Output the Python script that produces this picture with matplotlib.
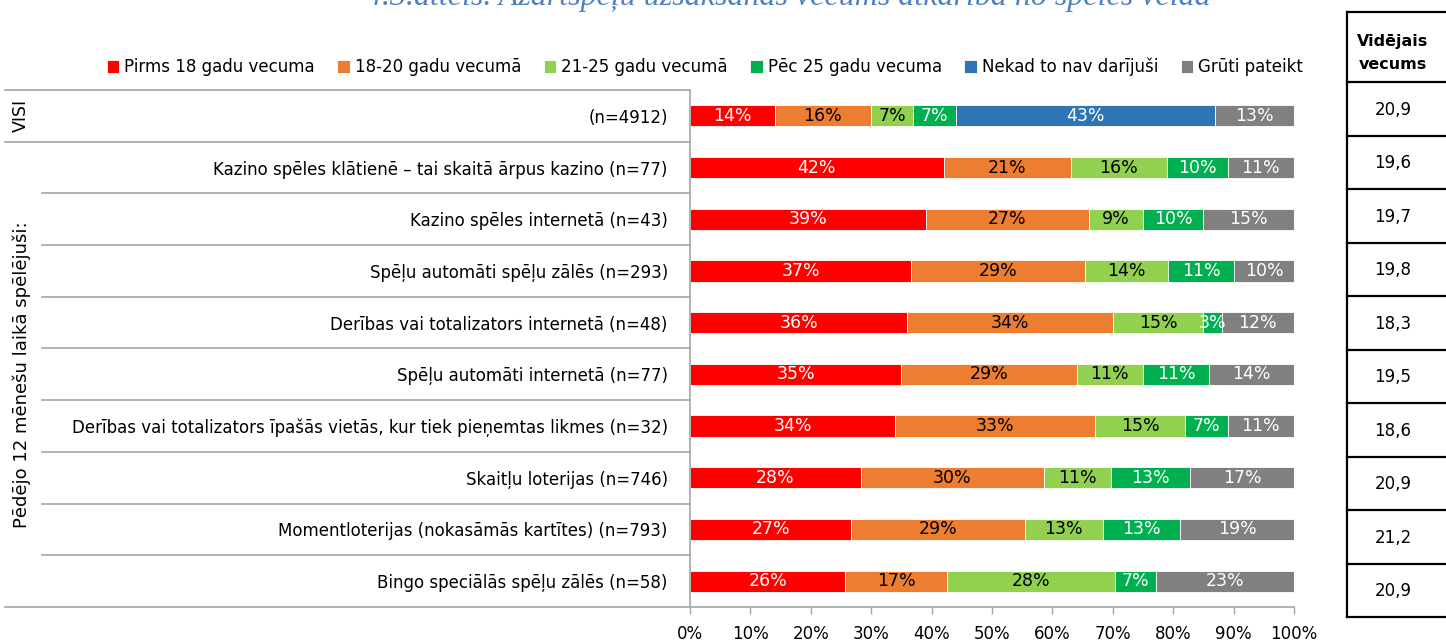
import numpy as np
import matplotlib.pyplot as plt
from matplotlib.transforms import blended_transform_factory

plt.rcParams['font.family'] = ['DejaVu Sans']

# dati
categories = [
    "(n=4912)",
    "Kazino spēles klātienē – tai skaitā ārpus kazino (n=77)",
    "Kazino spēles internetā (n=43)",
    "Spēļu automāti spēļu zālēs (n=293)",
    "Derības vai totalizators internetā (n=48)",
    "Spēļu automāti internetā (n=77)",
    "Derības vai totalizators īpašās vietās, kur tiek pieņemtas likmes (n=32)",
    "Skaitļu loterijas (n=746)",
    "Momentloterijas (nokasāmās kartītes) (n=793)",
    "Bingo speciālās spēļu zālēs (n=58)",
]
series_names = ["Pirms 18 gadu vecuma", "18-20 gadu vecumā", "21-25 gadu vecumā",
                "Pēc 25 gadu vecuma", "Nekad to nav darījuši", "Grūti pateikt"]
before18 = [14, 42, 39, 37, 36, 35, 34, 28, 27, 26]
age18_20 = [16, 21, 27, 29, 34, 29, 33, 30, 29, 17]
age21_25 = [7, 16, 9, 14, 15, 11, 15, 11, 13, 28]
after25 = [7, 10, 10, 11, 3, 11, 7, 13, 13, 7]
never = [43, 0, 0, 0, 0, 0, 0, 0, 0, 0]
hard_to_say = [13, 11, 15, 10, 12, 14, 11, 17, 19, 23]
mean_age = [20.9, 19.6, 19.7, 19.8, 18.3, 19.5, 18.6, 20.9, 21.2, 20.9]
group_labels = ["VISI", "Pēdējo 12 mēnešu laikā spēlējuši:"]

colors = ['#FF0000', '#ED7D31', '#92D050', '#00B050', '#2E75B6', '#808080']
text_colors = ['white', 'black', 'black', 'white', 'white', 'white']

W, H = 1446, 643
fig = plt.figure(figsize=(W / 100, H / 100), dpi=100)

# overlay for table / category decorations (pixel coords)
ov = fig.add_axes([0, 0, 1, 1])
ov.set_xlim(0, W)
ov.set_ylim(H, 0)
ov.axis('off')

ax = fig.add_axes([690 / W, 1 - 607 / H, 604 / W, 517 / H])
ax.set_facecolor('none')

all_series = [before18, age18_20, age21_25, after25, never, hard_to_say]
totals = np.sum(np.array(all_series, dtype=float), axis=0)
y = np.arange(len(categories))
left = np.zeros(len(categories))
for name, vals, col, tcol in zip(series_names, all_series, colors, text_colors):
    vals = np.array(vals, dtype=float)
    share = vals / totals * 100
    ax.barh(y, share, left=left, height=0.41, color=col, edgecolor='white',
            linewidth=0.6, label=name)
    for yi, v, l, s in zip(y, vals, left, share):
        if v > 0:
            ax.text(l + s / 2, yi, f'{v:.0f}%', ha='center', va='center',
                    color=tcol, fontsize=12.5)
    left += share

ax.set_xlim(0, 100)
ax.set_ylim(len(categories) - 0.5, -0.5)
ax.set_xticks(range(0, 101, 10))
ax.set_xticklabels([f'{t}%' for t in range(0, 101, 10)], fontsize=12)
ax.set_yticks(y)
ax.set_yticklabels(categories, fontsize=12)
ax.tick_params(axis='y', length=0, pad=16)
ax.tick_params(axis='x', length=5, width=1, color='#A6A6A6', pad=8)
for s in ['top', 'right']:
    ax.spines[s].set_visible(False)
for s in ['left', 'bottom']:
    ax.spines[s].set_color('#A6A6A6')
    ax.spines[s].set_linewidth(1.2)

# category separators on the left
tr = blended_transform_factory(ov.transData, ax.transData)
for b in [-0.5, 0.5, len(categories) - 0.5]:
    ov.plot([5, 690], [b, b], color='#A6A6A6', lw=1.2, transform=tr, clip_on=False)
for b in np.arange(1.5, len(categories) - 1, 1.0):
    ov.plot([42, 690], [b, b], color='#A6A6A6', lw=1.2, transform=tr, clip_on=False)
ov.text(21, 0, group_labels[0], rotation=90, ha='center', va='center',
        fontsize=12.5, transform=tr)
ov.text(22, (1 + len(categories) - 1) / 2, group_labels[1], rotation=90,
        ha='center', va='center', fontsize=13, transform=tr)

# legend
fig.legend(loc='center', bbox_to_anchor=(705 / W, 1 - 67 / H), ncol=6, frameon=False,
           handlelength=0.75, handleheight=0.75, handletextpad=0.3, columnspacing=1.35,
           fontsize=12)

# title (cut at top, as in the source)
fig.text(788 / W, 1 - 5 / H, "4.3.attēls. Azartspēļu uzsākšanas vecums atkarībā no spēles veidā",
         ha='center', va='baseline', style='italic', family=['Liberation Serif', 'DejaVu Serif'],
         color='#4F81BD', fontsize=23)

# right table
tx0, ttop, thead, tbot = 1347, 12, 82, 617
ov.plot([tx0, tx0], [ttop, tbot], color='black', lw=1.6, clip_on=False)
ov.plot([tx0, W + 5], [ttop, ttop], color='black', lw=1.6, clip_on=False)
row_h = (tbot - thead) / len(mean_age)
for i in range(len(mean_age) + 1):
    yy = thead + i * row_h
    ov.plot([tx0, W + 5], [yy, yy], color='black', lw=1.6, clip_on=False)
ov.text(1393, 53, "Vidējais\nvecums", ha='center', va='center',
        fontsize=11.5, fontweight='bold', linespacing=1.6)
for i, v in enumerate(mean_age):
    ov.text(1393, thead + (i + 0.5) * row_h + 1, f'{v:.1f}'.replace('.', ','),
            ha='center', va='center', fontsize=12)

fig.savefig('out.png', dpi=100)
